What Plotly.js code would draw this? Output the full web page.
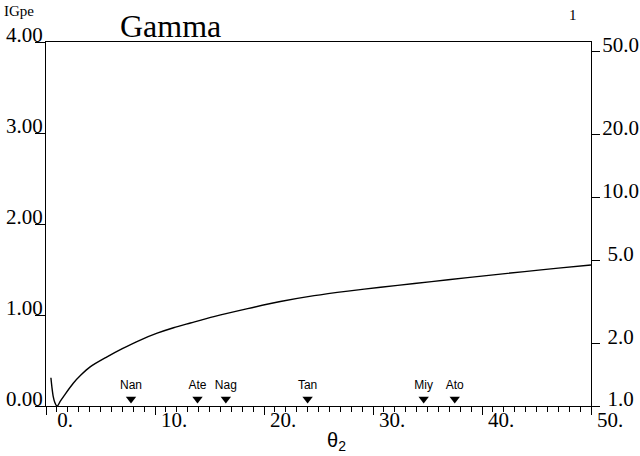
<!DOCTYPE html>
<html>
<head>
<meta charset="utf-8">
<script src="https://cdn.plot.ly/plotly-3.0.1.min.js"></script>
<style>html,body{margin:0;padding:0;background:#fff;}#chart{width:640px;height:456px;}</style>
</head>
<body>
<div id="chart"></div>
<script>
// Curve: theta_2 vs IGpe (left axis)
const theta2 = [0.45, 0.55, 0.67, 0.8, 0.92, 1.04, 1.3, 1.7, 2.5, 3.2, 4.05, 5.6, 7.0, 8.65, 10.2, 11.7, 13.25, 15.4, 18.5, 21.5, 24.6, 27.7, 30.7, 33.8, 36.9, 40.4, 43.9, 47.0, 50.0];
const igpe   = [0.31, 0.20, 0.10, 0.04, 0.01, 0.0, 0.05, 0.12, 0.25, 0.34, 0.43, 0.54, 0.63, 0.725, 0.80, 0.86, 0.912, 0.982, 1.07, 1.148, 1.213, 1.263, 1.305, 1.346, 1.387, 1.433, 1.477, 1.515, 1.55];

// Site markers along the bottom
const siteNames = ['Nan', 'Ate', 'Nag', 'Tan', 'Miy', 'Ato'];
const siteTheta = [7.8, 13.9, 16.5, 24.0, 34.65, 37.5];
const siteLevel = [0.077, 0.077, 0.077, 0.077, 0.077, 0.077];

// Tick labels
const xTickVals = [0, 10, 20, 30, 40, 50];
const xTickText = ['0.', '10.', '20.', '30.', '40.', '50.'];
const yTickVals = [0, 1, 2, 3, 4];
const yTickText = ['0.00', '1.00', '2.00', '3.00', '4.00'];
const y2TickVals = [1, 2, 5, 10, 20, 50];
const y2TickText = ['\u00a01.0', '\u00a02.0', '\u00a05.0', '10.0', '20.0', '50.0'];

const serif = 'Liberation Serif, Times New Roman, serif';
const sans = 'Liberation Sans, Arial, sans-serif';

const traces = [
  {x: theta2, y: igpe, mode: 'lines', line: {color: '#000', width: 1.4, shape: 'spline', smoothing: 0.8}, showlegend: false, hoverinfo: 'skip'},
  {x: siteTheta, y: siteLevel, mode: 'markers+text', text: siteNames, textposition: 'top center',
   textfont: {family: sans, size: 12, color: '#000'},
   marker: {symbol: 'triangle-down', size: 9, color: '#000'}, showlegend: false, hoverinfo: 'skip'},
  {x: [0], y: [1], yaxis: 'y2', mode: 'markers', marker: {opacity: 0, size: 1}, showlegend: false, hoverinfo: 'skip'}
];

const layout = {
  width: 640, height: 456,
  margin: {l: 46, r: 49, t: 42, b: 50, pad: 0},
  paper_bgcolor: '#fff', plot_bgcolor: '#fff',
  title: {text: 'Gamma', font: {family: serif, size: 32, color: '#000'},
          xref: 'container', yref: 'container', x: 120/640, xanchor: 'left', y: 1 - 26/456, yanchor: 'middle'},
  xaxis: {range: [0, 50], tickmode: 'array', tickvals: xTickVals, ticktext: xTickText,
          ticks: 'outside', ticklen: 8, tickcolor: '#000', tickwidth: 1,
          minor: {dtick: 1, ticks: 'outside', ticklen: 5, tickcolor: '#000', tickwidth: 1},
          showline: true, linecolor: '#000', linewidth: 1, mirror: true,
          showgrid: false, zeroline: false,
          tickfont: {family: serif, size: 21, color: '#000'}, ticklabelshift: 19, ticklabelstandoff: -13},
  yaxis: {range: [0, 4], tickmode: 'array', tickvals: yTickVals, ticktext: yTickText,
          ticks: 'outside', ticklen: 10, tickcolor: '#000', tickwidth: 1,
          showline: true, linecolor: '#000', linewidth: 1,
          showgrid: false, zeroline: false,
          tickfont: {family: serif, size: 21, color: '#000'}, ticklabelshift: -7, ticklabelstandoff: -12},
  yaxis2: {overlaying: 'y', side: 'right', type: 'log', range: [0, 1.745],
           tickmode: 'array', tickvals: y2TickVals, ticktext: y2TickText,
           ticks: 'outside', ticklen: 8, tickcolor: '#000', tickwidth: 1,
           showline: true, linecolor: '#000', linewidth: 1,
           showgrid: false, zeroline: false,
           tickfont: {family: serif, size: 21, color: '#000'}, ticklabelshift: -7, ticklabelstandoff: -2},
  annotations: [
    {text: 'IGpe', xref: 'paper', yref: 'paper', x: -44/545, y: (406 - 11)/364, xanchor: 'left', yanchor: 'middle',
     showarrow: false, font: {family: serif, size: 15, color: '#000'}},
    {text: '1', xref: 'paper', yref: 'paper', x: (573 - 46)/545, y: (406 - 15)/364, xanchor: 'center', yanchor: 'middle',
     showarrow: false, font: {family: serif, size: 15, color: '#000'}},
    {text: '\u03b8<sub>2</sub>', xref: 'paper', yref: 'paper', x: (336 - 46)/545, y: (406 - 441)/364, xanchor: 'center', yanchor: 'middle',
     showarrow: false, font: {family: sans, size: 20, color: '#000'}}
  ]
};

Plotly.newPlot('chart', traces, layout, {staticPlot: true, displayModeBar: false});
</script>
</body>
</html>
